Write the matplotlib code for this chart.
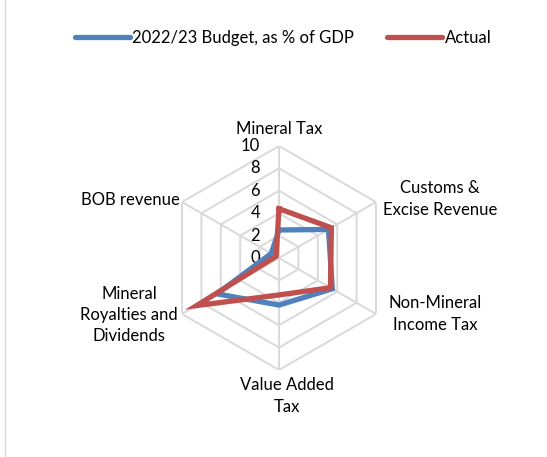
import numpy as np
import matplotlib
matplotlib.use('Agg')
import matplotlib.pyplot as plt
from matplotlib.lines import Line2D

plt.rcParams['font.family'] = ['Lato', 'DejaVu Sans']

# data
categories = ['Mineral Tax', 'Customs &\nExcise Revenue', 'Non-Mineral\nIncome Tax',
              'Value Added\nTax', 'Mineral\nRoyalties and\nDividends', 'BOB revenue']
budget = [2.5, 5.1, 5.5, 4.2, 6.4, 0.8]
actual = [4.4, 5.4, 5.3, 3.3, 8.5, 0.3]
levels = [0, 2, 4, 6, 8, 10]

W, H = 547, 457
fig = plt.figure(figsize=(W / 100, H / 100), dpi=100)

# centre of the radar at (279, 258) px, radius 112 px
cx, cy, R = 279, 258, 112
ax = fig.add_axes([(cx - R) / W, (H - cy - R) / H, 2 * R / W, 2 * R / H], polar=True)
ax.set_theta_offset(np.pi / 2)
ax.set_theta_direction(-1)
ax.set_ylim(0, 10)
ax.grid(False)
ax.spines['polar'].set_visible(False)
ax.set_xticks([])
ax.set_yticks([])
ax.patch.set_alpha(0)

n = len(categories)
ang = np.linspace(0, 2 * np.pi, n, endpoint=False)
ang_c = np.append(ang, ang[0])

grid_col = '#d9d9d9'
for lv in levels[1:]:
    ax.plot(ang_c, [lv] * (n + 1), color=grid_col, lw=1.4, zorder=1)
for a in ang:
    ax.plot([a, a], [0, 10], color=grid_col, lw=1.4, zorder=1)

for lv in levels:
    ax.annotate(str(lv), xy=(0, lv), xytext=(-19, 0), textcoords='offset pixels',
                ha='right', va='center', fontsize=12)

ax.plot(ang_c, budget + budget[:1], color='#4f81bd', lw=3.8, solid_joinstyle='miter',
        label='2022/23 Budget, as % of GDP', zorder=3)
ax.plot(ang_c, actual + actual[:1], color='#c0504d', lw=3.8, solid_joinstyle='miter',
        label='Actual', zorder=4)

# category labels (pixel positions)
label_pos = [(279, 129), (440, 199), (435, 314), (287, 396), (129, 315), (130, 200)]
for txt, (x, y) in zip(categories, label_pos):
    fig.text(x / W, 1 - y / H, txt, ha='center', va='center', fontsize=12,
             linespacing=1.4)

leg = fig.legend(loc='center', bbox_to_anchor=(283 / W, 1 - 38 / H), ncol=2, frameon=False,
                 fontsize=12, handlelength=3.3, handletextpad=0.15, columnspacing=2.0)
for h in leg.get_lines():
    h.set_solid_capstyle('round')

fig.add_artist(Line2D([5 / W, 5 / W], [0, 1], color='#d9d9d9', lw=1))

fig.savefig('out.png', dpi=100)
